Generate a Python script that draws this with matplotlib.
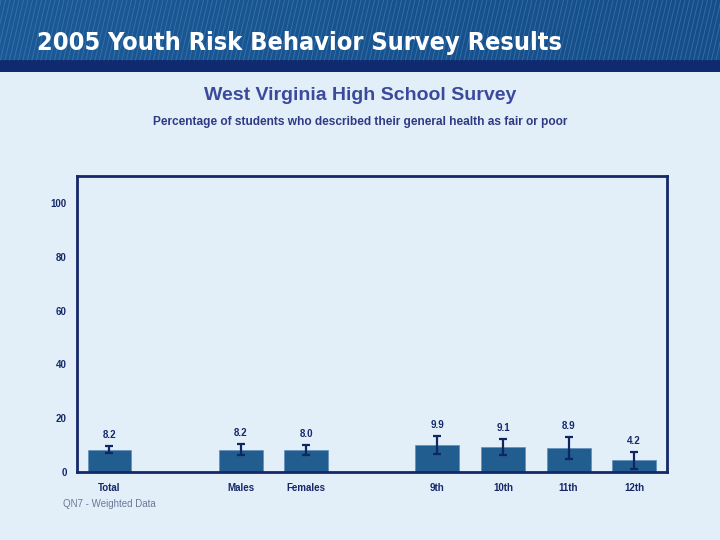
import numpy as np
import matplotlib
matplotlib.use("Agg")
import matplotlib.pyplot as plt

# data
categories = ["Total", "", "Males", "Females", "", "9th", "10th", "11th", "12th"]
values = [8.2, np.nan, 8.2, 8.0, np.nan, 9.9, 9.1, 8.9, 4.2]
ci_low = [7.0, np.nan, 6.2, 6.2, np.nan, 6.6, 6.1, 4.7, 1.0]
ci_high = [9.6, np.nan, 10.4, 9.8, np.nan, 13.3, 12.1, 13.0, 7.3]
yticks = [0, 20, 40, 60, 80, 100]

bg = "#e3eff8"
navy = "#15286a"
bar_col = "#215d8e"

fig = plt.figure(figsize=(7.2, 5.4), dpi=100, facecolor=bg)

# header banner
hdr = fig.add_axes([0, 1 - 72 / 540, 1, 72 / 540])
hdr.axis("off")
grad = np.linspace(0, 1, 200)[None, :]
hdr.imshow(grad, extent=[0, 720, 60, 0], aspect="auto",
           cmap=matplotlib.colors.LinearSegmentedColormap.from_list("h", ["#1b5996", "#164e89"]))
for x0 in np.arange(-40, 760, 4.5):
    hdr.plot([x0, x0 + 14], [60, 0], color="#4a86bd", lw=0.6, alpha=0.6)
hdr.add_patch(plt.Rectangle((0, 60), 720, 12, color="#0f2a6e", lw=0))
hdr.set_xlim(0, 720)
hdr.set_ylim(72, 0)

t = hdr.text(37, 43, "2005 Youth Risk Behavior Survey Results", color="white",
             fontsize=20, fontweight="bold", va="center", ha="left",
             family="DejaVu Sans", fontstretch="condensed")
fig.canvas.draw()
bb = t.get_window_extent()
if bb.width > 540:
    t.set_fontsize(20 * 525 / bb.width)

fig.text(0.5, 1 - 95 / 540, "West Virginia High School Survey", ha="center", va="center",
         fontsize=14, fontweight="bold", color="#3b4a9c", family="Liberation Sans")
fig.text(0.5, 1 - 122 / 540, "Percentage of students who described their general health as fair or poor",
         ha="center", va="center", fontsize=8.6, fontweight="bold", color="#2f3a85",
         family="Liberation Sans")

ax = fig.add_axes([76.7 / 720, 68.3 / 540, (667 - 76.7) / 720, (471.7 - 175.7) / 540])
ax.set_facecolor(bg)
x = np.arange(len(categories))
vals = np.array(values)
lo = np.array(ci_low)
hi = np.array(ci_high)
ax.bar(x, vals, width=0.67, color=bar_col, edgecolor="#5f8fba", linewidth=0.5, zorder=2)
ax.errorbar(x, vals, yerr=[vals - lo, hi - vals], fmt="none", ecolor="#0f2660",
            elinewidth=1.6, capsize=3, capthick=1.6, zorder=3)
for xi, v, h in zip(x, vals, hi):
    if np.isnan(v):
        continue
    ax.annotate(f"{v:.1f}", (xi, h), xytext=(0, 4.5), textcoords="offset points",
                ha="center", va="bottom", fontsize=7, fontweight="bold", color=navy,
                family="Liberation Sans")

ax.set_xlim(-0.5, len(categories) - 0.5)
ax.set_ylim(0, 110.3)
ax.set_yticks(yticks)
ax.set_yticklabels([str(t) for t in yticks])
ax.set_xticks(x)
ax.set_xticklabels(categories)
ax.tick_params(length=0, labelsize=7, labelcolor=navy, pad=8)
ax.tick_params(axis="y", pad=7)
for lbl in ax.get_xticklabels() + ax.get_yticklabels():
    lbl.set_fontweight("bold")
    lbl.set_family("Liberation Sans")
for s in ax.spines.values():
    s.set_color(navy)
    s.set_linewidth(2)

fig.text(63 / 720, 1 - 504 / 540, "QN7 - Weighted Data", fontsize=7, color="#6a7898",
         va="center", ha="left", family="Liberation Sans")

fig.savefig("out.png", dpi=100, facecolor=bg)
